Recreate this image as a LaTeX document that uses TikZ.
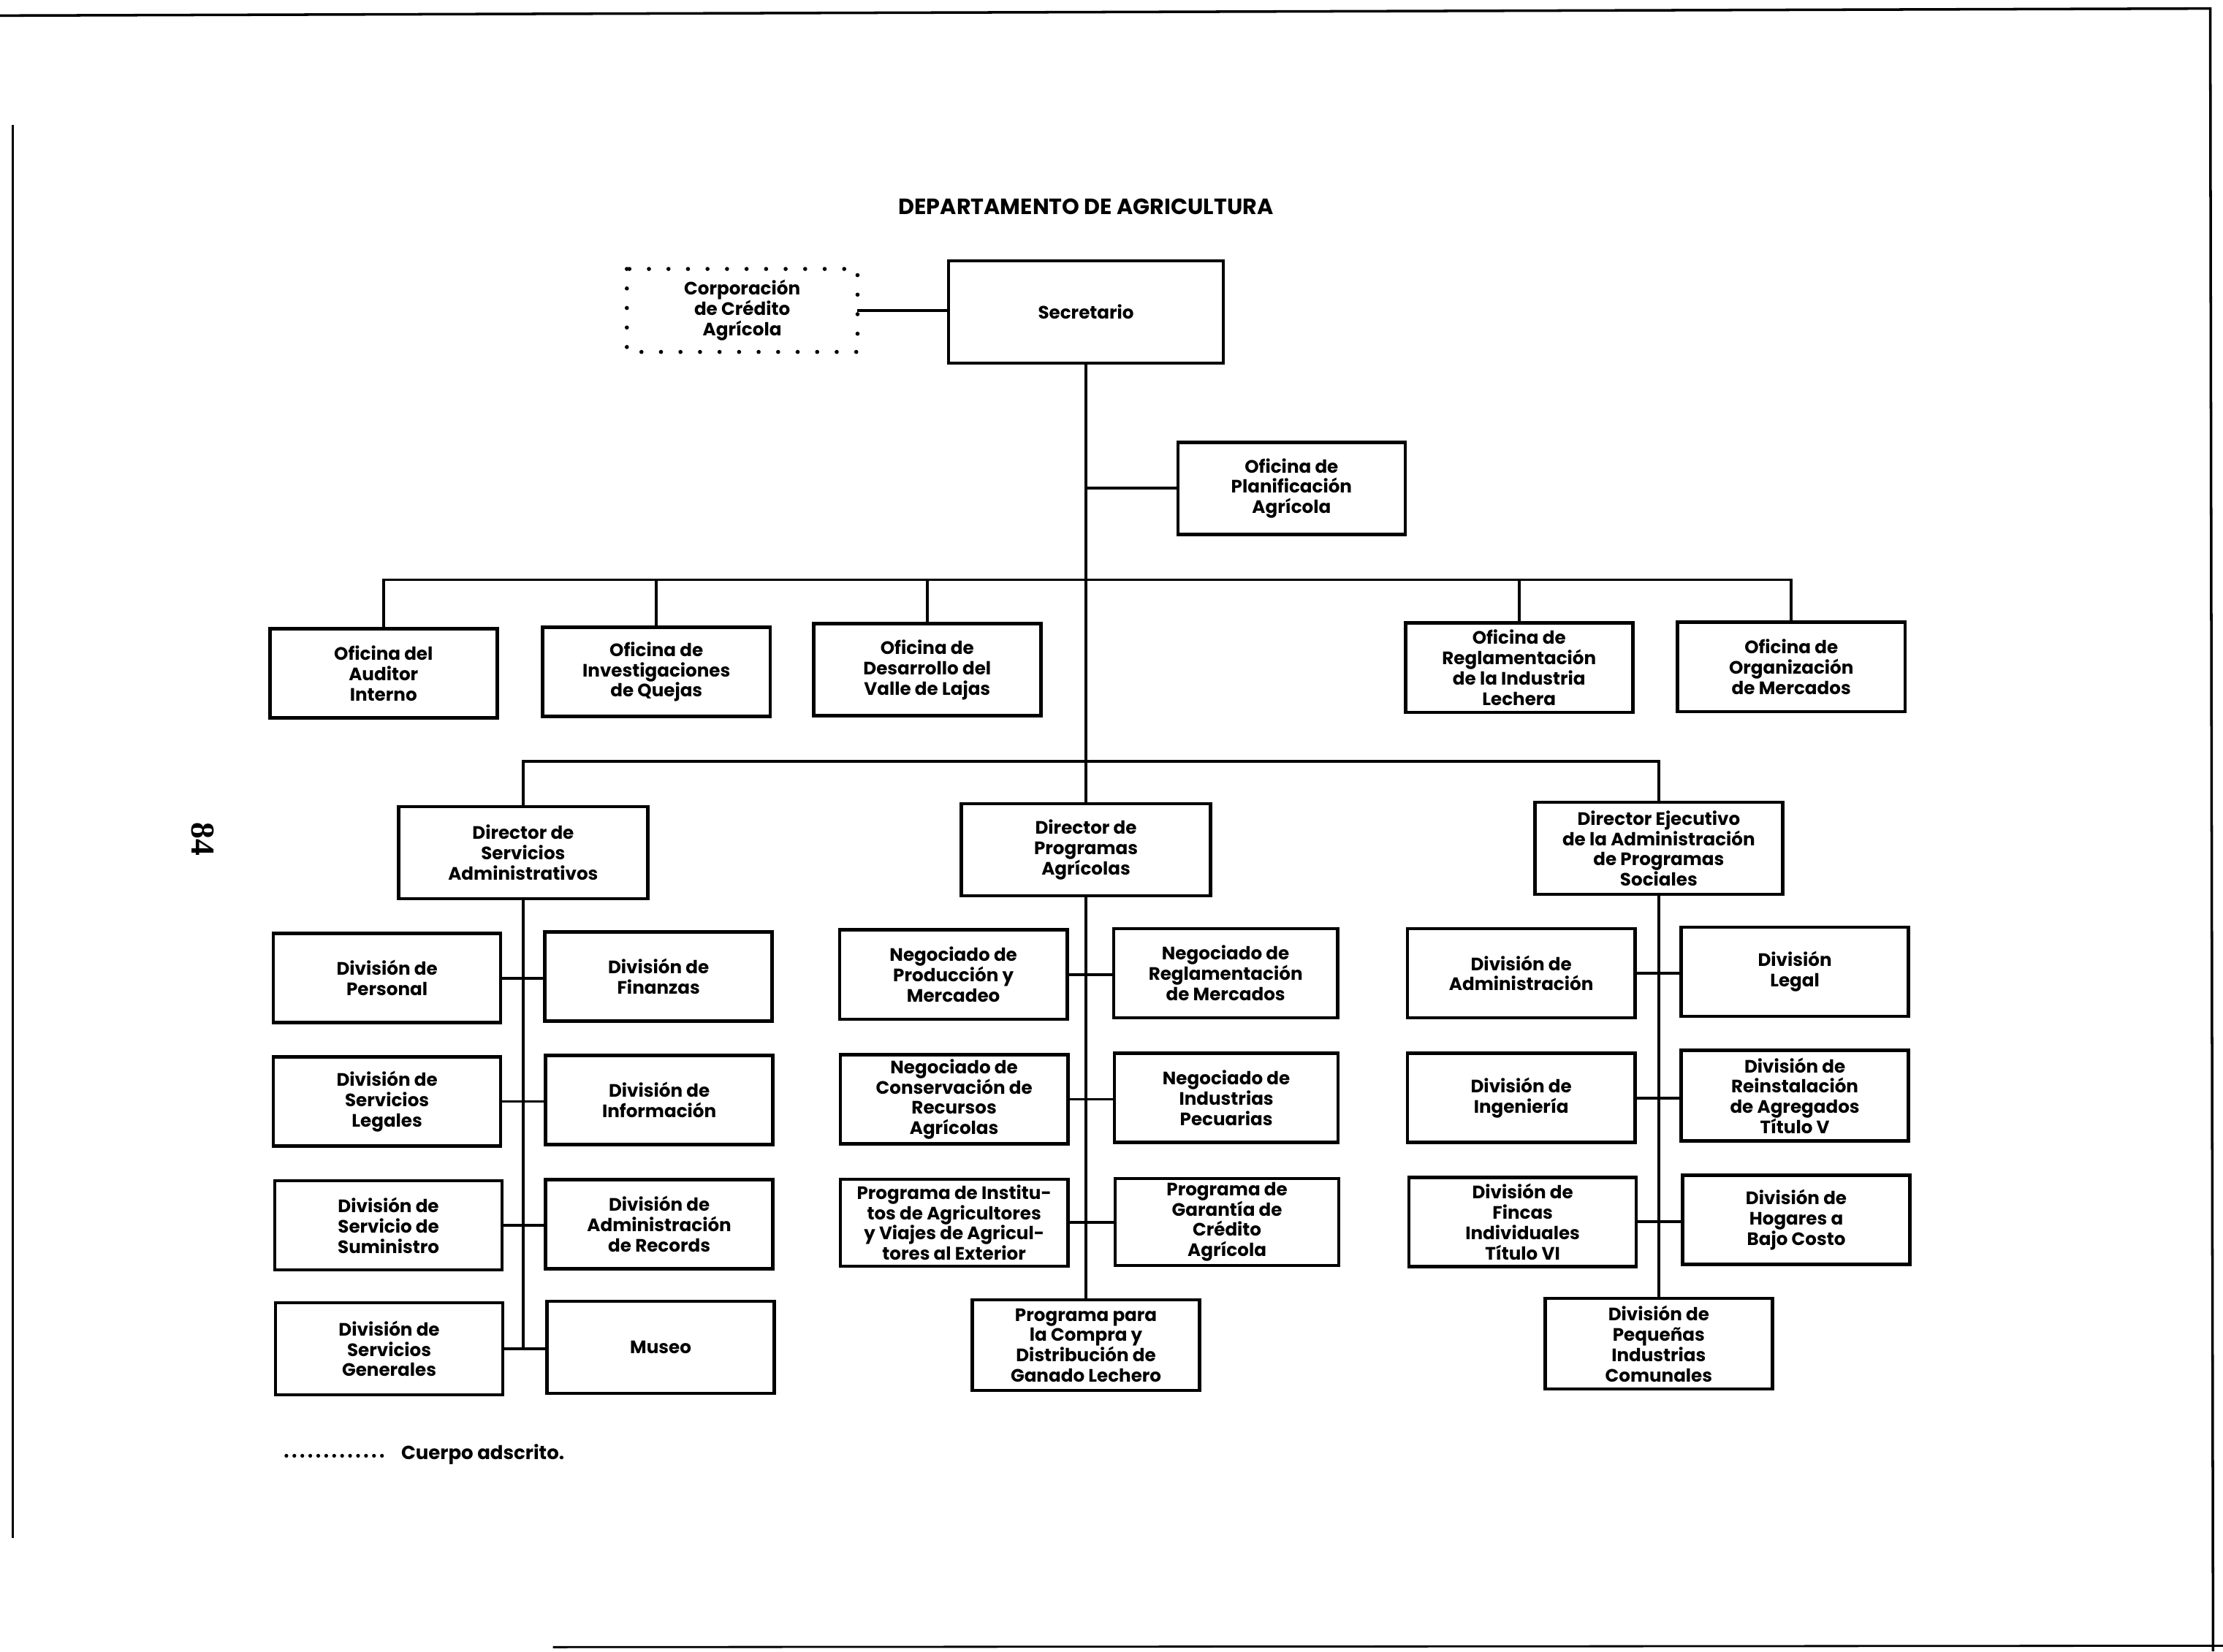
\documentclass[tikz,border=0pt]{standalone}
\usepackage{fontspec}
\setmainfont{Poppins}
\newfontfamily\numfont{Liberation Serif}
\begin{document}
\begin{tikzpicture}[x=0.0194cm,y=-0.0194cm,line width=1.1pt,
	box/.style={draw,line width=1.3pt,align=center,inner sep=1pt,minimum width=3.11cm,minimum height=1.22cm,font=\bfseries\fontsize{7}{7.9}\selectfont},
	dirbox/.style={box,minimum width=3.41cm,minimum height=1.26cm},
	dotbox/.style={box,draw=none},
	dots/.style={line width=1.6pt,line cap=round,dash pattern=on 0pt off 7.6pt}]
	%page
	\useasboundingbox (0,0) rectangle (1568,1165);
	\draw[line width=1pt] (0,11) -- (1559,6) -- (1561,1165);
	\draw[line width=0.8pt] (9,88) -- (9,1085);
	\draw[line width=0.8pt] (390,1162) -- (1568,1161);
	\node[rotate=-90,font=\numfont\bfseries\fontsize{13}{15}\selectfont] (pag) at (143,592) {84};

	%title
	\node[font=\bfseries\fontsize{8.6}{10}\selectfont] (tit) at (766,146) {DEPARTAMENTO DE AGRICULTURA};

	%top
	\node[box,minimum width=3.76cm,minimum height=1.40cm] (sec) at (766,220) {Secretario};
	\node[dotbox,minimum height=1.09cm] (corp) at (523.5,219) {Corporación\\de Crédito\\Agrícola};
	\draw[dots] (corp.north west) rectangle (corp.south east);
	\node[box,minimum height=1.26cm] (plan) at (911,344.5) {Oficina de\\Planificación\\Agrícola};

	%offices
	\node[box] (aud) at (270.5,475) {Oficina del\\Auditor\\Interno};
	\node[box] (quej) at (463,474) {Oficina de\\Investigaciones\\de Quejas};
	\node[box,minimum height=1.26cm] (laj) at (654,472.5) {Oficina de\\Desarrollo del\\Valle de Lajas};
	\node[box] (lech) at (1071.5,471) {Oficina de\\Reglamentación\\de la Industria\\Lechera};
	\node[box] (merc) at (1263.5,470.5) {Oficina de\\Organización\\de Mercados};

	%directors
	\node[dirbox] (dadm) at (369,601.5) {Director de\\Servicios\\Administrativos};
	\node[dirbox] (dprog) at (766,599.5) {Director de\\Programas\\Agrícolas};
	\node[dirbox,minimum width=3.39cm] (dsoc) at (1170,598.5) {Director Ejecutivo\\de la Administración\\de Programas\\Sociales};

	%servicios administrativos
	\node[box] (per) at (273,690) {División de\\Personal};
	\node[box] (fin) at (464.5,689) {División de\\Finanzas};
	\node[box] (leg) at (273,777) {División de\\Servicios\\Legales};
	\node[box] (inf) at (465,776) {División de\\Información};
	\node[box] (sum) at (274,864.5) {División de\\Servicio de\\Suministro};
	\node[box] (rec) at (465,863.5) {División de\\Administración\\de Records};
	\node[box,minimum height=1.26cm] (gen) at (274.5,951.5) {División de\\Servicios\\Generales};
	\node[box,minimum height=1.26cm] (mus) at (466,950.5) {Museo};

	%programas agricolas
	\node[box] (prod) at (672.5,687.5) {Negociado de\\Producción y\\Mercadeo};
	\node[box,minimum width=3.06cm] (regm) at (864.5,686.5) {Negociado de\\Reglamentación\\de Mercados};
	\node[box] (cons) at (673,775.5) {Negociado de\\Conservación de\\Recursos\\Agrícolas};
	\node[box,minimum width=3.06cm] (pec) at (865,774.5) {Negociado de\\Industrias\\Pecuarias};
	\node[box,minimum height=1.19cm] (inst) at (673,862.5) {Programa de Institu-\\tos de Agricultores\\y Viajes de Agricul-\\tores al Exterior};
	\node[box,minimum width=3.06cm,minimum height=1.19cm] (gar) at (865.5,862) {Programa de\\Garantía de\\Crédito\\Agrícola};
	\node[box,minimum height=1.24cm] (comp) at (766,949) {Programa para\\la Compra y\\Distribución de\\Ganado Lechero};

	%programas sociales
	\node[box] (adm) at (1073,686.5) {División de\\Administración};
	\node[box] (lgl) at (1266,685.5) {División\\Legal};
	\node[box] (ing) at (1073,774.5) {División de\\Ingeniería};
	\node[box,minimum height=1.24cm] (rein) at (1266,773) {División de\\Reinstalación\\de Agregados\\Título V};
	\node[box] (finc) at (1074,862) {División de\\Fincas\\Individuales\\Título VI};
	\node[box] (hog) at (1267,860.5) {División de\\Hogares a\\Bajo Costo};
	\node[box,minimum height=1.24cm] (peq) at (1170,948) {División de\\Pequeñas\\Industrias\\Comunales};

	%lines
	\coordinate (b1) at (766,409);
	\coordinate (b2) at (766,537);
	\draw (corp.east) -- (corp.east -| sec.west);
	\draw (sec.south) -- (dprog.north);
	\draw (plan.west) -- (plan.west -| sec.south);
	\draw (aud.north) |- (b1) -| (merc.north);
	\draw (quej.north) -- (quej.north |- b1);
	\draw (laj.north) -- (laj.north |- b1);
	\draw (lech.north) -- (lech.north |- b1);
	\draw (dadm.north) |- (b2) -| (dsoc.north);

	\draw (dadm.south) -- (dadm.south |- gen.east);
	\draw (per.east) -- (per.east -| fin.west);
	\draw (leg.east) -- (leg.east -| inf.west);
	\draw (sum.east) -- (sum.east -| rec.west);
	\draw (gen.east) -- (gen.east -| mus.west);

	\draw (dprog.south) -- (comp.north);
	\draw (prod.east) -- (prod.east -| regm.west);
	\draw (cons.east) -- (cons.east -| pec.west);
	\draw (inst.east) -- (inst.east -| gar.west);

	\draw (dsoc.south) -- (peq.north);
	\draw (adm.east) -- (adm.east -| lgl.west);
	\draw (ing.east) -- (ing.east -| rein.west);
	\draw (finc.east) -- (finc.east -| hog.west);

	%legend
	\coordinate (k1) at (202,1027);
	\coordinate (k2) at (275,1027);
	\draw[line width=1.5pt,line cap=round,dash pattern=on 0pt off 3.1pt] (k1) -- (k2);
	\node[anchor=west,inner sep=0pt,font=\bfseries\fontsize{7.4}{8.5}\selectfont] (key) at (282,1026) {Cuerpo adscrito.};
\end{tikzpicture}
\end{document}
